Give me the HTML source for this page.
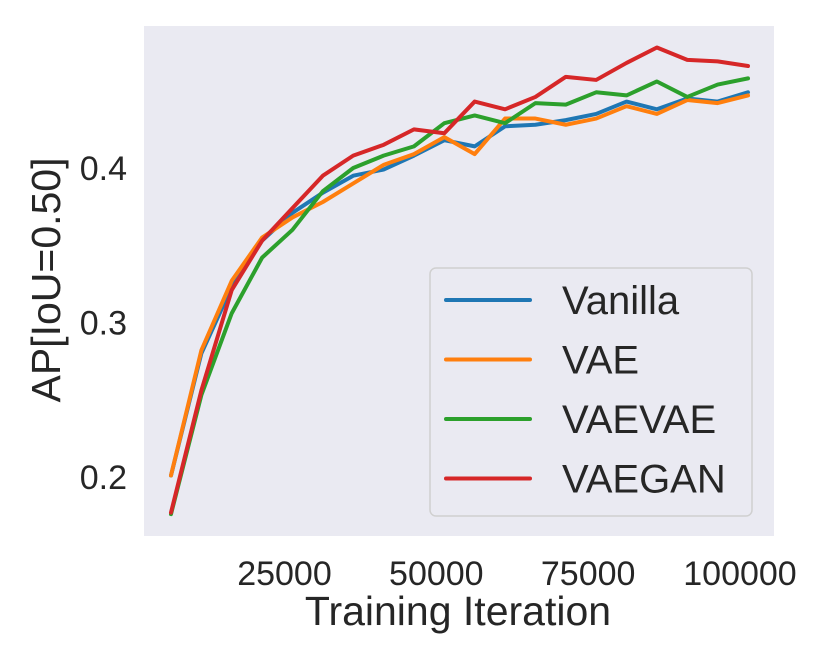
<!DOCTYPE html>
<html><head><meta charset="utf-8"><style>body{margin:0;background:#fff}svg{display:block;font-family:"Liberation Sans",sans-serif}</style></head>
<body>
<svg id="chart" width="830" height="664" viewBox="0 0 830 664" xmlns="http://www.w3.org/2000/svg">
<rect x="144" y="26" width="630" height="510" fill="#eaeaf2"/>
<g id="series"></g><g id="ticks"></g>
<text x="458" y="625" font-size="41" text-anchor="middle" fill="#262626">Training Iteration</text>
<text transform="translate(60,280) rotate(-90)" font-size="41" text-anchor="middle" fill="#262626">AP[IoU=0.50]</text>
<g>
<rect x="430" y="268" width="322" height="248" rx="6" fill="#eaeaf2" stroke="#d0d0d0" stroke-width="1.5"/>
<g id="legend-items"></g>
</g>
</svg>
<script>
const iterations=[5000,10000,15000,20000,25000,30000,35000,40000,45000,50000,55000,60000,65000,70000,75000,80000,85000,90000,95000,100000];
const vanilla=[0.201,0.280,0.323,0.353,0.371,0.384,0.395,0.399,0.408,0.418,0.414,0.427,0.428,0.431,0.435,0.443,0.438,0.445,0.443,0.449];
const vae=[0.201,0.282,0.327,0.355,0.368,0.378,0.390,0.402,0.409,0.420,0.409,0.432,0.432,0.428,0.432,0.440,0.435,0.444,0.442,0.447];
const vaevae=[0.176,0.253,0.306,0.342,0.360,0.385,0.400,0.408,0.414,0.429,0.434,0.429,0.442,0.441,0.449,0.447,0.456,0.446,0.454,0.458];
const vaegan=[0.177,0.256,0.321,0.353,0.374,0.395,0.408,0.415,0.425,0.4225,0.443,0.438,0.446,0.459,0.457,0.468,0.478,0.470,0.469,0.466];
const xTicks=[25000,50000,75000,100000];
const yTicks=[0.2,0.3,0.4];
const seriesNames=["Vanilla","VAE","VAEVAE","VAEGAN"];
const colors=["#1f77b4","#ff7f0e","#2ca02c","#d62728"];
const NS="http://www.w3.org/2000/svg";
const xs=v=>171+(v-5000)*(748-171)/95000;
const ys=v=>168-(v-0.4)*1545;
const mk=(t,p,a)=>{const e=document.createElementNS(NS,t);for(const k in a)e.setAttribute(k,a[k]);p.appendChild(e);return e;};
const ticks=document.getElementById('ticks'),ser=document.getElementById('series'),leg=document.getElementById('legend-items');
xTicks.forEach(t=>{
const e=mk('text',ticks,{x:xs(t)-8,y:585,'font-size':34,'text-anchor':'middle',fill:'#262626'});e.textContent=t;

});
yTicks.forEach(t=>{
const e=mk('text',ticks,{x:127,y:ys(t)+12,'font-size':34,'text-anchor':'end',fill:'#262626'});e.textContent=t.toFixed(1);

});
[vanilla,vae,vaevae,vaegan].forEach((d,i)=>{
const p=mk('polyline',ser,{points:d.map((v,j)=>xs(iterations[j])+','+ys(v)).join(' '),fill:'none',stroke:colors[i],'stroke-width':4,'stroke-linejoin':'round','stroke-linecap':'round'});


const y=300+i*59.5;
const l=mk('line',leg,{x1:446,x2:530,y1:y,y2:y,stroke:colors[i],'stroke-width':4,'stroke-linecap':'round'});


const t=mk('text',leg,{x:562,y:y+14,'font-size':40,fill:'#262626'});t.textContent=seriesNames[i];

});
</script>
</body></html>
